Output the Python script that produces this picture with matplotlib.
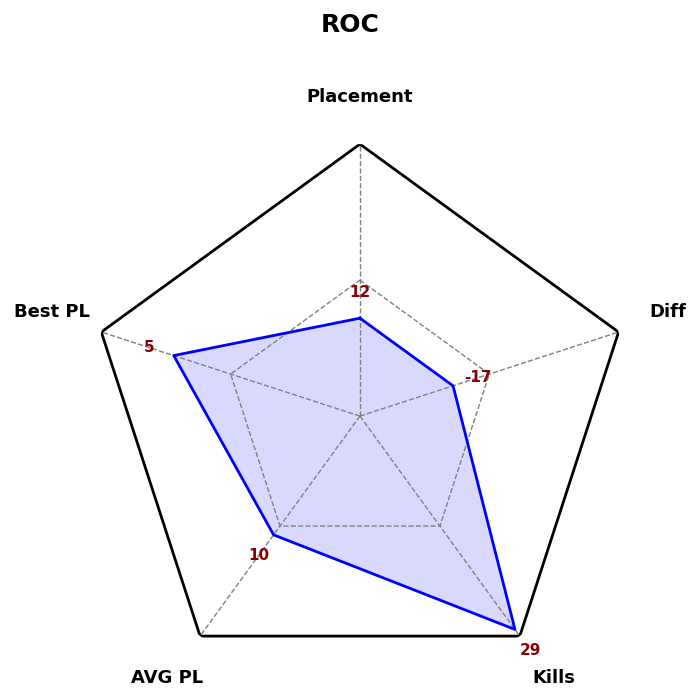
import numpy as np
import matplotlib
matplotlib.use('Agg')
from matplotlib import pyplot as plt

# 雷达图数据
labels = ['Placement', 'Diff', 'Kills', 'AVG PL', 'Best PL']
raw_values = [12, -17, 29, 10, 5]  # 原始数值 (标注用)
norm_values = [0.36, 0.36, 0.97, 0.54, 0.72]  # 归一化半径
grid_levels = [0.5, 1.0]

n = len(labels)
angles = np.linspace(0, 2 * np.pi, n, endpoint=False)
closed = np.append(angles, angles[0])

fig = plt.figure(figsize=(7, 7), dpi=100)
ax = fig.add_axes([0.1257, 0.0171, 0.777, 0.777], projection='polar')
ax.set_theta_offset(np.pi / 2)
ax.set_theta_direction(-1)
ax.set_ylim(0, 1)
ax.grid(False)
ax.spines['polar'].set_visible(False)
ax.set_xticks([])
ax.set_yticks([])

# 网格 (五边形)
for lvl in grid_levels:
    r = [lvl] * (n + 1)
    if lvl == 1.0:
        ax.plot(closed, r, color='black', lw=2, zorder=3)
    else:
        ax.plot(closed, r, color='grey', lw=1, ls='--', zorder=2)
for a in angles:
    ax.plot([a, a], [0, 1], color='grey', lw=1, ls='--', zorder=2)

# 数据多边形
vals = norm_values + norm_values[:1]
ax.fill(closed, vals, color='blue', alpha=0.15, zorder=1)
ax.plot(closed, vals, color='blue', lw=2, zorder=4)

# 数值标注
for a, v, raw in zip(angles, norm_values, raw_values):
    ax.text(a, v + 0.095, str(raw), color='darkred', fontsize=11, fontweight='bold',
            ha='center', va='center', zorder=5)

# 轴标签 (微调偏移, 单位 points)
shifts = [(0, -3.6), (0, 2.9), (2.9, 0), (-2.2, 0), (0, 2.9)]
for a, lab, s in zip(angles, labels, shifts):
    ax.annotate(lab, xy=(a, 1.19), xytext=s, textcoords='offset points',
                fontsize=13, fontweight='bold', ha='center', va='center',
                annotation_clip=False)

fig.text(0.5, 1 - 25 / 700, 'ROC', fontsize=18, fontweight='bold', ha='center', va='center')

plt.savefig('out.png', dpi=100)
